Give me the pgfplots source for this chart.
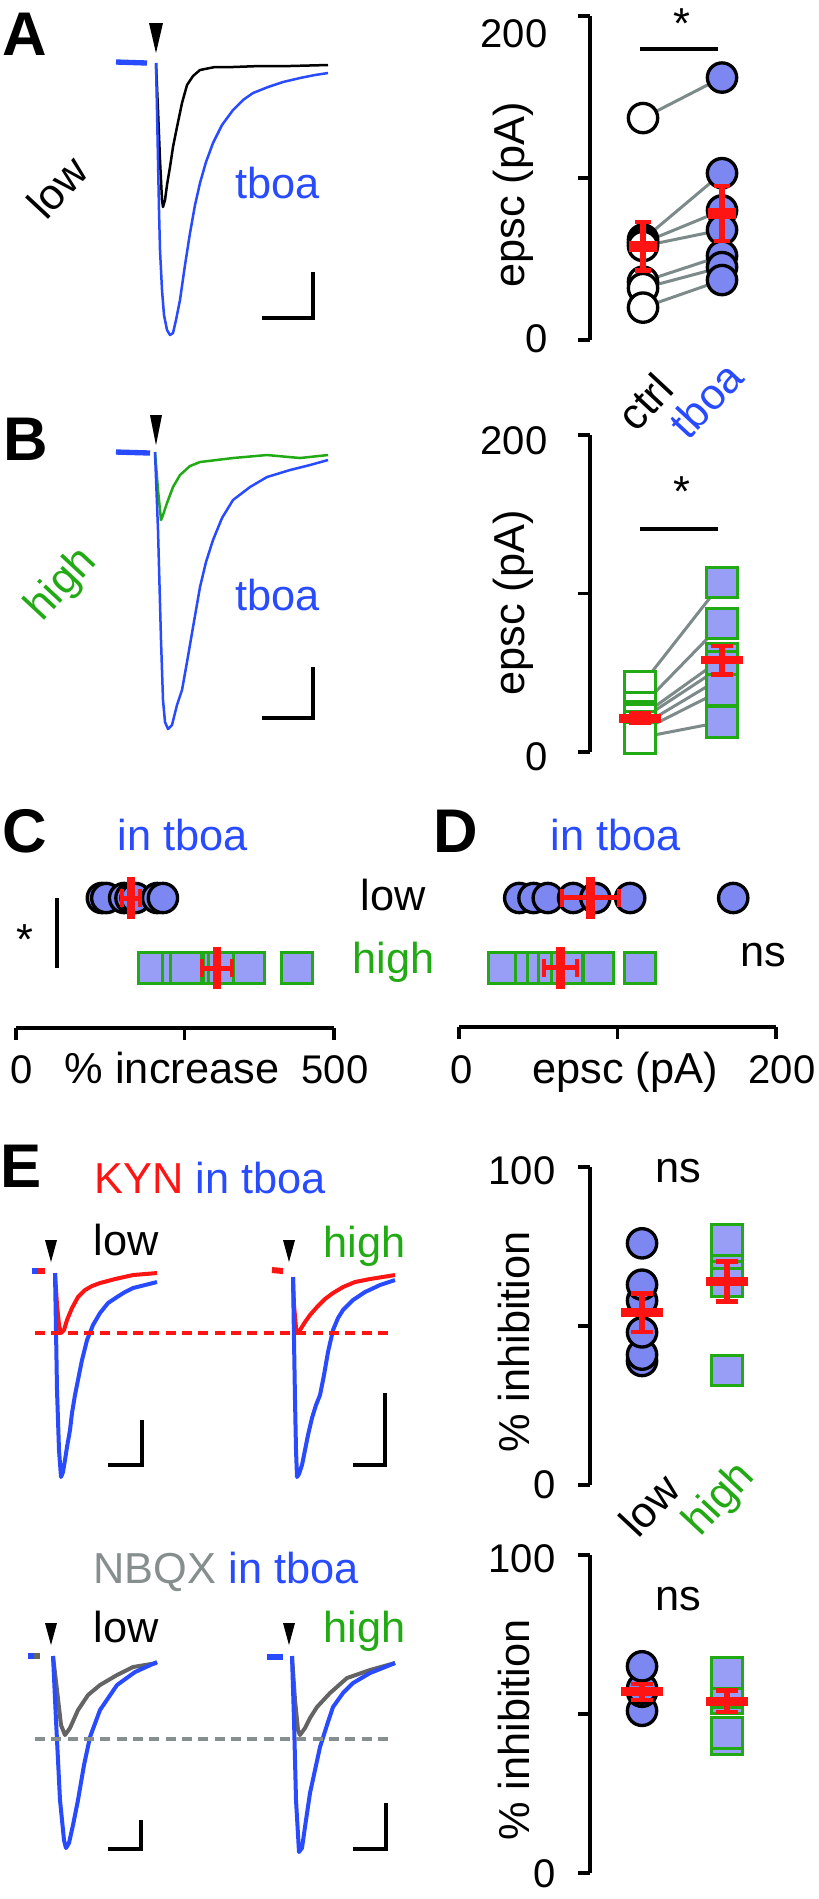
\documentclass[border=0pt]{standalone}
\usepackage{pgfplots}
\pgfplotsset{compat=1.18}
\usepackage{fontspec}
\setmainfont{Liberation Sans}
\definecolor{tblue}{RGB}{40,75,255}
\definecolor{cfill}{RGB}{125,135,242}
\definecolor{sfill}{RGB}{152,158,245}
\definecolor{pgreen}{RGB}{34,170,20}
\definecolor{pred}{RGB}{255,20,20}
\definecolor{lgray}{RGB}{125,138,138}
\definecolor{tgray}{RGB}{100,100,100}
\definecolor{ngray}{RGB}{135,142,142}
\newcommand{\ft}{\fontsize{13}{15}\selectfont}
\newcommand{\fn}{\fontsize{12}{14}\selectfont}
\newcommand{\fL}{\fontsize{18.5}{20}\selectfont\bfseries}
\pgfplotsset{
  sub/.style={scale only axis, clip=false, clip marker paths=true, anchor=south west,
    axis line style={black, line width=1.1pt},
    every tick/.style={black, line width=1.1pt},
    major tick length=3.6pt},
  vax/.style={sub, axis y line*=left, axis x line=none, xtick=\empty, yticklabels={,,}, tick align=outside},
  hax/.style={sub, axis x line*=bottom, axis y line=none, ytick=\empty, xticklabels={,,}, tick align=outside},
  cmark/.style={only marks, mark=*, mark size=4.4pt, mark options={draw=black, fill=cfill, line width=1pt}},
  cmarkw/.style={only marks, mark=*, mark size=4.4pt, mark options={draw=black, fill=white, line width=1pt}},
  smark/.style={only marks, mark=square*, mark size=4.6pt, mark options={draw=pgreen, fill=sfill, line width=0.9pt}},
  smarkw/.style={only marks, mark=square*, mark size=4.6pt, mark options={draw=pgreen, fill=white, line width=0.9pt}},
  pair/.style={lgray, line width=0.9pt, no markers},
  meanv/.style={pred, only marks, mark=-, mark size=6.4pt, mark options={line width=2.6pt, pred}},
  meanh/.style={pred, only marks, mark=|, mark size=6.4pt, mark options={line width=2.5pt, pred}},
  ebar/.style={pred, line width=1.6pt, no markers},
  capv/.style={pred, only marks, mark=-, mark size=3.3pt, mark options={line width=1.3pt, pred}},
  caph/.style={pred, only marks, mark=|, mark size=2.8pt, mark options={line width=1.3pt, pred}},
  trA/.style={line width=0.75pt, line join=round, no markers},
  trE/.style={line width=1.2pt, line join=round, no markers},
  sbar/.style={black, line width=1.3pt, no markers},
  arrowhead/.style={fill=black, draw=none, no markers},
}
% vertical SEM bar: x, low, high
\newcommand{\errv}[3]{\addplot[ebar] coordinates {(#1,#2)(#1,#3)};\addplot[capv] coordinates {(#1,#2)(#1,#3)};}
% horizontal SEM bar: y, low, high
\newcommand{\errh}[3]{\addplot[ebar, line width=1.5pt] coordinates {(#2,#1)(#3,#1)};\addplot[caph] coordinates {(#2,#1)(#3,#1)};}
\begin{document}
\begin{tikzpicture}
\begin{axis}[at={(0,0)}, anchor=north west, scale only axis, width=245.7pt, height=569.7pt,
  xmin=0, xmax=819, ymin=0, ymax=1899, y dir=reverse, hide axis, clip=false]
% anchors for sub-axes
\coordinate (oA) at (axis cs:590,340);
\coordinate (oB) at (axis cs:590,752);
\coordinate (oC) at (axis cs:16,1028);
\coordinate (oD) at (axis cs:459,1027);
\coordinate (oE1) at (axis cs:590,1485);
\coordinate (oE2) at (axis cs:590,1873);
% ---------- Panel A traces
\addplot[trA, black] coordinates {(156,63)(158,110)(160,160)(162,200)(163,207)(165,200)(167,185)(170,167)(173,147)(177,127)(182,103)(187,85)(193,76)(200,70)(215,67)(233,67)(260,66)(290,66)(328,65)};
\addplot[trA, tblue] coordinates {(156,63)(157,110)(158,160)(159,210)(160,250)(162,290)(164,315)(167,330)(170,335)(173,333)(176,320)(180,300)(185,265)(190,233)(195,205)(200,183)(206,162)(213,143)(222,125)(233,110)(243,100)(253,93)(268,87)(283,82)(300,78)(315,75)(328,73)};
\addplot[tblue, line width=1.6pt, no markers] coordinates {(116,62)(147,63)};
\addplot[arrowhead] coordinates {(149,23)(163,23)(156,53)} -- cycle;
\addplot[sbar] coordinates {(262,318)(313,318)(313,272)};
\node[anchor=base west, inner sep=0] at (2,55) {\fL A};
\node[rotate=47, inner sep=0] at (57,187) {\ft low};
\node[anchor=base west, inner sep=0, text=tblue] at (235,198) {\ft tboa};
% Panel A right labels
\node[anchor=east, inner sep=0] at (548,34) {\fn 200};
\node[anchor=east, inner sep=0] at (548,339) {\fn 0};
\node[rotate=90, inner sep=0] at (513,195) {\ft epsc (pA)};
\node[inner sep=0] at (682,24) {\ft *};
\addplot[black, line width=1.3pt, no markers] coordinates {(640,49)(718,49)};
\node[rotate=47, inner sep=0] at (645,402) {\ft ctrl};
\node[rotate=47, inner sep=0, text=tblue] at (706,400) {\ft tboa};
% ---------- Panel B traces
\addplot[trA, pgreen] coordinates {(155,452)(158,490)(161,520)(163,515)(167,503)(173,487)(180,475)(190,466)(200,462)(233,458)(267,455)(300,458)(328,455)};
\addplot[trA, tblue] coordinates {(155,452)(158,530)(161,640)(163,700)(165,722)(168,729)(172,725)(177,705)(182,690)(187,662)(192,633)(200,587)(206,562)(213,540)(222,518)(233,500)(250,487)(267,477)(290,470)(310,465)(328,460)};
\addplot[tblue, line width=1.6pt, no markers] coordinates {(116,452)(150,453)};
\addplot[arrowhead] coordinates {(150,415)(162,415)(156,445)} -- cycle;
\addplot[sbar] coordinates {(262,718)(313,718)(313,667)};
\node[anchor=base west, inner sep=0] at (3,460) {\fL B};
\node[rotate=47, inner sep=0, text=pgreen] at (62,585) {\ft high};
\node[anchor=base west, inner sep=0, text=tblue] at (235,610) {\ft tboa};
\node[anchor=east, inner sep=0] at (548,441) {\fn 200};
\node[anchor=east, inner sep=0] at (548,757) {\fn 0};
\node[rotate=90, inner sep=0] at (513,603) {\ft epsc (pA)};
\node[inner sep=0] at (682,492) {\ft *};
\addplot[black, line width=1.3pt, no markers] coordinates {(640,529)(718,529)};
% ---------- Panel C / D labels
\node[anchor=base west, inner sep=0] at (2,852) {\fL C};
\node[anchor=base, inner sep=0, text=tblue] at (183,850) {\ft in tboa};
\node[inner sep=0] at (25,940) {\ft *};
\addplot[black, line width=1.3pt, no markers] coordinates {(57,898)(57,968)};
\node[anchor=base west, inner sep=0] at (360,910) {\ft low};
\node[anchor=base west, inner sep=0, text=pgreen] at (352,973) {\ft high};
\node[anchor=base, inner sep=0] at (22,1083) {\fn 0};
\node[anchor=base, inner sep=0] at (172,1083) {\ft \% increase};
\node[anchor=base, inner sep=0] at (335,1083) {\fn 500};
\node[anchor=base west, inner sep=0] at (433,852) {\fL D};
\node[anchor=base, inner sep=0, text=tblue] at (616,850) {\ft in tboa};
\node[anchor=base, inner sep=0] at (763,966) {\ft ns};
\node[anchor=base, inner sep=0] at (462,1083) {\fn 0};
\node[anchor=base, inner sep=0] at (625,1083) {\ft epsc (pA)};
\node[anchor=base, inner sep=0] at (782,1083) {\fn 200};
% ---------- Panel E (KYN)
\node[anchor=base west, inner sep=0] at (0,1187) {\fL E};
\node[anchor=base west, inner sep=0] at (94,1193) {\ft \textcolor{pred}{KYN} \textcolor{tblue}{in tboa}};
\node[anchor=base west, inner sep=0] at (93,1255) {\ft low};
\node[anchor=base west, inner sep=0, text=pgreen] at (323,1257) {\ft high};
\addplot[arrowhead] coordinates {(45,1240)(57,1240)(51,1262)} -- cycle;
\addplot[arrowhead] coordinates {(283,1240)(295,1240)(289,1262)} -- cycle;
\addplot[trE, pred] coordinates {(55,1273)(57,1305)(59,1325)(61,1333)(64,1330)(67,1320)(72,1308)(78,1297)(85,1290)(92,1286)(100,1283)(115,1279)(133,1275)(157,1273)};
\addplot[trE, tblue] coordinates {(55,1273)(56,1330)(57,1390)(59,1450)(61,1477)(63,1472)(65,1460)(67,1447)(70,1430)(72,1413)(75,1395)(78,1380)(82,1360)(87,1340)(93,1325)(100,1313)(108,1303)(117,1297)(125,1292)(133,1288)(145,1285)(157,1282)};
\addplot[tblue, line width=1.8pt, no markers] coordinates {(32,1271)(38,1271)};
\addplot[pred, line width=1.8pt, no markers] coordinates {(38,1271)(45,1271)};
\addplot[trE, pred] coordinates {(293,1277)(294,1305)(296,1328)(297,1333)(300,1330)(305,1322)(310,1315)(317,1307)(325,1299)(333,1293)(343,1287)(355,1282)(370,1279)(395,1275)};
\addplot[trE, tblue] coordinates {(293,1277)(294,1340)(295,1400)(296,1450)(297,1477)(299,1474)(302,1465)(305,1450)(308,1435)(312,1418)(316,1405)(320,1395)(324,1375)(328,1352)(333,1330)(338,1318)(343,1310)(353,1300)(365,1292)(380,1285)(395,1280)};
\addplot[pred, line width=1.8pt, no markers] coordinates {(272,1270)(283,1271)};
\addplot[pred, line width=1.2pt, dash pattern=on 3pt off 1.9pt, no markers] coordinates {(35,1333)(393,1333)};
\addplot[sbar] coordinates {(108,1465)(142,1465)(142,1420)};
\addplot[sbar] coordinates {(353,1465)(385,1465)(385,1393)};
\node[anchor=east, inner sep=0] at (556,1171) {\fn 100};
\node[anchor=east, inner sep=0] at (556,1485) {\fn 0};
\node[anchor=base, inner sep=0] at (678,1182) {\ft ns};
\node[rotate=90, inner sep=0] at (514,1342) {\ft \% inhibition};
\node[rotate=47, inner sep=0] at (649,1505) {\ft low};
\node[rotate=47, inner sep=0, text=pgreen] at (720,1500) {\ft high};
% ---------- Panel E (NBQX)
\node[anchor=base west, inner sep=0] at (93,1583) {\ft \textcolor{ngray}{NBQX} \textcolor{tblue}{in tboa}};
\node[anchor=base west, inner sep=0] at (93,1642) {\ft low};
\node[anchor=base west, inner sep=0, text=pgreen] at (323,1642) {\ft high};
\addplot[arrowhead] coordinates {(45,1623)(57,1623)(51,1645)} -- cycle;
\addplot[arrowhead] coordinates {(283,1623)(295,1623)(289,1645)} -- cycle;
\addplot[trE, tgray] coordinates {(53,1656)(57,1690)(61,1725)(65,1735)(70,1728)(78,1710)(88,1695)(100,1685)(117,1675)(133,1667)(157,1663)};
\addplot[trE, tblue] coordinates {(53,1656)(56,1720)(60,1800)(64,1840)(66,1848)(69,1843)(73,1825)(78,1800)(84,1765)(90,1737)(100,1710)(117,1685)(135,1672)(157,1662)};
\addplot[tblue, line width=1.8pt, no markers] coordinates {(28,1656)(34,1656)};
\addplot[tgray, line width=1.8pt, no markers] coordinates {(34,1656)(40,1656)};
\addplot[trE, tgray] coordinates {(292,1656)(295,1700)(298,1730)(300,1735)(305,1728)(310,1718)(317,1707)(330,1693)(347,1678)(370,1670)(395,1663)};
\addplot[trE, tblue] coordinates {(292,1656)(294,1720)(296,1800)(299,1852)(302,1848)(306,1820)(310,1793)(315,1770)(320,1747)(327,1725)(333,1707)(343,1693)(353,1683)(370,1673)(395,1663)};
\addplot[tblue, line width=1.8pt, no markers] coordinates {(267,1657)(283,1657)};
\addplot[ngray, line width=1.2pt, dash pattern=on 3pt off 1.9pt, no markers] coordinates {(35,1739)(393,1739)};
\addplot[sbar] coordinates {(108,1849)(141,1849)(141,1820)};
\addplot[sbar] coordinates {(353,1849)(386,1849)(386,1803)};
\node[anchor=east, inner sep=0] at (556,1559) {\fn 100};
\node[anchor=east, inner sep=0] at (556,1874) {\fn 0};
\node[anchor=base, inner sep=0] at (678,1610) {\ft ns};
\node[rotate=90, inner sep=0] at (514,1730) {\ft \% inhibition};
\end{axis}

% ================= A right
\begin{axis}[vax, at={(oA)}, x=23.7pt, y=0.486pt, xmin=-0.671, xmax=1.6, ymin=0, ymax=200, ytick={0,100,200}]
\addplot[pair] coordinates {(0,137)(1,162)};
\addplot[pair] coordinates {(0,62)(1,103)};
\addplot[pair] coordinates {(0,60)(1,80)};
\addplot[pair] coordinates {(0,58)(1,68)};
\addplot[pair] coordinates {(0,36)(1,52)};
\addplot[pair] coordinates {(0,32)(1,45)};
\addplot[pair] coordinates {(0,20)(1,37)};
\addplot[cmarkw] coordinates {(0,137)(0,62)(0,60)(0,58)(0,36)(0,32)(0,20)};
\addplot[cmark] coordinates {(1,162)(1,103)(1,80)(1,68)(1,52)(1,45)(1,37)};
\addplot[ebar, line width=2pt] coordinates {(0,42.9)(0,72.9)};
\addplot[capv, mark size=2.3pt] coordinates {(0,42.9)(0,72.9)};
\addplot[ebar, line width=2pt] coordinates {(1,61.1)(1,95.1)};
\addplot[capv, mark size=2.3pt] coordinates {(1,61.1)(1,95.1)};
\addplot[meanv, mark size=4.3pt, mark options={line width=3.4pt, pred}] coordinates {(0,57.9)(1,78.1)};
\end{axis}

% ================= B right
\begin{axis}[vax, at={(oB)}, x=24.6pt, y=0.4755pt, xmin=-0.61, xmax=1.6, ymin=0, ymax=200, ytick={0,100,200}]
\addplot[pair] coordinates {(0,41)(1,107)};
\addplot[pair] coordinates {(0,28)(1,81)};
\addplot[pair] coordinates {(0,22)(1,59)};
\addplot[pair] coordinates {(0,20)(1,54)};
\addplot[pair] coordinates {(0,16)(1,47)};
\addplot[pair] coordinates {(0,13)(1,39)};
\addplot[pair] coordinates {(0,9)(1,19)};
\addplot[smarkw] coordinates {(0,41)(0,28)(0,22)(0,20)(0,16)(0,13)(0,9)};
\addplot[smark] coordinates {(1,107)(1,81)(1,59)(1,54)(1,47)(1,39)(1,19)};
\errv{0}{18.3}{24.3}
\errv{1}{49}{67}
\addplot[meanv] coordinates {(0,21.3)(1,58)};
\end{axis}

% ================= C
\begin{axis}[hax, at={(oC)}, x=0.1908pt, y=21pt, xmin=0, xmax=500, ymin=-0.857, ymax=1.5, xtick={0,265,500}]
\addplot[smark] coordinates {(217,0)(255,0)(267,0)(319,0)(327,0)(366,0)(442,0)};
\addplot[cmark] coordinates {(135,1)(142,1)(170,1)(180,1)(188,1)(222,1)(231,1)};
\errh{1}{167}{195}
\errh{0}{292}{340}
\addplot[meanh] coordinates {(181,1)(316,0)};
\end{axis}

% ================= D
\begin{axis}[hax, at={(oD)}, x=0.4755pt, y=21pt, xmin=0, xmax=200, ymin=-0.843, ymax=1.5, xtick={0,100,200}]
\addplot[smark] coordinates {(28,0)(45,0)(53,0)(60,0)(68,0)(88,0)(114,0)};
\addplot[cmark] coordinates {(38,1)(47,1)(56,1)(72,1)(86,1)(108,1)(173,1)};
\errh{1}{65}{101}
\errh{0}{53.5}{74.5}
\addplot[meanh] coordinates {(83,1)(64,0)};
\end{axis}

% ================= E right top (KYN)
\begin{axis}[vax, at={(oE1)}, x=25.5pt, y=0.954pt, xmin=-0.612, xmax=1.6, ymin=0, ymax=100, ytick={0,50,100}]
\addplot[cmark] coordinates {(0,39)(0,41)(0,48)(0,58)(0,63)(0,76)};
\addplot[smark] coordinates {(1,36)(1,64)(1,68)(1,73)(1,75)(1,77)};
\errv{0}{48.2}{60.2}
\errv{1}{57.7}{70.3}
\addplot[meanv] coordinates {(0,54.2)(1,64)};
\end{axis}

% ================= E right bottom (NBQX)
\begin{axis}[vax, at={(oE2)}, x=25.5pt, y=0.954pt, xmin=-0.612, xmax=1.6, ymin=0, ymax=100, ytick={0,50,100}]
\addplot[cmark] coordinates {(0,51)(0,57)(0,58)(0,65)};
\addplot[smark] coordinates {(1,42)(1,44)(1,55)(1,57)(1,59)(1,63)};
\errv{0}{54.5}{59.5}
\errv{1}{50.6}{57.4}
\addplot[meanv] coordinates {(0,57)(1,54)};
\end{axis}

\pgfresetboundingbox
\path (0,0) rectangle (245.7pt,-569.7pt);
\end{tikzpicture}
\end{document}
